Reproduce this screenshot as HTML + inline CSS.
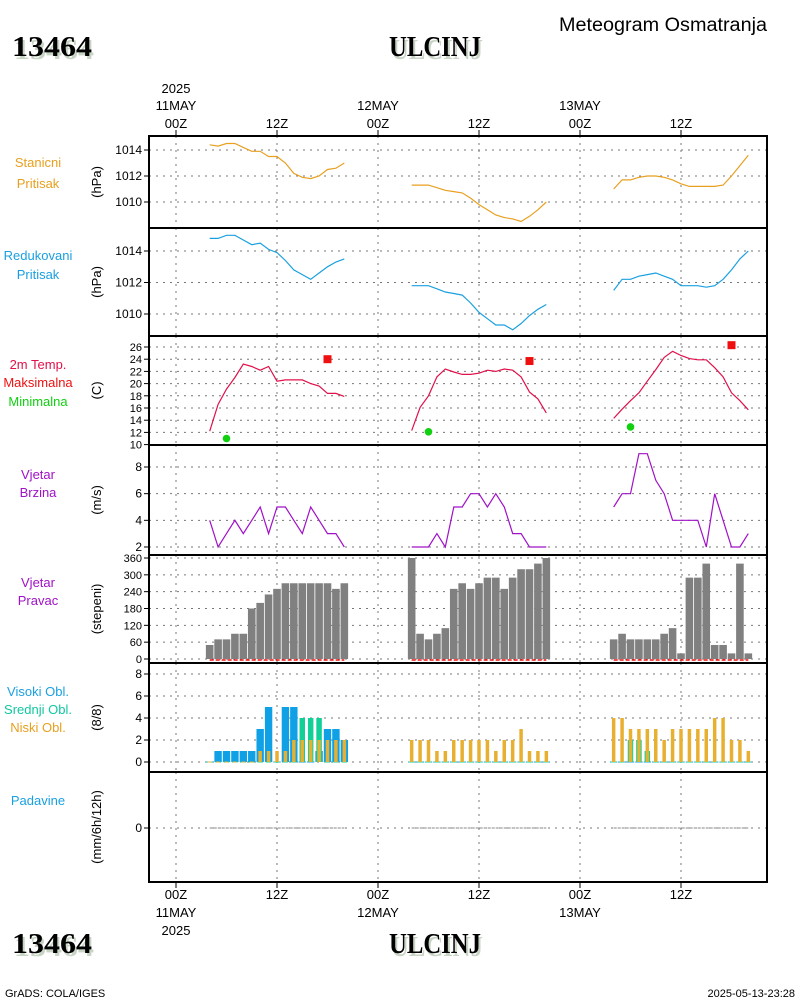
<!DOCTYPE html>
<html><head><meta charset="utf-8"><style>
html,body{margin:0;padding:0;background:#fff;}
svg{display:block;font-family:"Liberation Sans",sans-serif;}
</style></head><body>
<svg id="chart" width="800" height="1000" viewBox="0 0 800 1000" xmlns="http://www.w3.org/2000/svg">
<g>
<text x="559" y="31" font-size="19" fill="#000" textLength="208" lengthAdjust="spacingAndGlyphs">Meteogram Osmatranja</text>
<text x="14" y="59" font-size="29" font-family="Liberation Serif,serif" font-weight="bold" fill="#c8d4c4" textLength="80" lengthAdjust="spacingAndGlyphs">13464</text>
<text x="12" y="56" font-size="29" font-family="Liberation Serif,serif" font-weight="bold" fill="#000" textLength="80" lengthAdjust="spacingAndGlyphs">13464</text>
<text x="391" y="59" font-size="29" font-family="Liberation Serif,serif" font-weight="bold" fill="#c8d4c4" textLength="92" lengthAdjust="spacingAndGlyphs">ULCINJ</text>
<text x="389" y="56" font-size="29" font-family="Liberation Serif,serif" font-weight="bold" fill="#000" textLength="92" lengthAdjust="spacingAndGlyphs">ULCINJ</text>
</g>
<g>
<text x="14" y="956" font-size="29" font-family="Liberation Serif,serif" font-weight="bold" fill="#c8d4c4" textLength="80" lengthAdjust="spacingAndGlyphs">13464</text>
<text x="12" y="953" font-size="29" font-family="Liberation Serif,serif" font-weight="bold" fill="#000" textLength="80" lengthAdjust="spacingAndGlyphs">13464</text>
<text x="391" y="956" font-size="29" font-family="Liberation Serif,serif" font-weight="bold" fill="#c8d4c4" textLength="92" lengthAdjust="spacingAndGlyphs">ULCINJ</text>
<text x="389" y="953" font-size="29" font-family="Liberation Serif,serif" font-weight="bold" fill="#000" textLength="92" lengthAdjust="spacingAndGlyphs">ULCINJ</text>
<text x="5" y="997" font-size="11" fill="#000">GrADS: COLA/IGES</text>
<text x="795" y="997" font-size="11" fill="#000" text-anchor="end">2025-05-13-23:28</text>
</g>
<g id="plots"></g>
</svg>
<script>
// ---- data (hourly, hours 4..20 of each day) ----
const dayStarts = [4, 28, 52];
const stationP = [
 [1014.4,1014.3,1014.5,1014.5,1014.2,1013.9,1013.9,1013.5,1013.5,1013.0,1012.2,1011.9,1011.8,1012.0,1012.5,1012.6,1013.0],
 [1011.3,1011.3,1011.3,1011.1,1010.9,1010.8,1010.7,1010.3,1009.8,1009.4,1009.0,1008.8,1008.7,1008.5,1008.9,1009.4,1010.0],
 [1011.0,1011.7,1011.7,1011.9,1012.0,1012.0,1011.9,1011.7,1011.4,1011.2,1011.2,1011.2,1011.2,1011.3,1012.0,1012.8,1013.6]];
const reducedP = [
 [1014.8,1014.8,1015.0,1015.0,1014.7,1014.4,1014.5,1014.1,1013.9,1013.4,1012.8,1012.5,1012.2,1012.6,1013.0,1013.3,1013.5],
 [1011.8,1011.8,1011.8,1011.6,1011.4,1011.3,1011.2,1010.7,1010.1,1009.7,1009.3,1009.3,1009.0,1009.4,1009.9,1010.3,1010.6],
 [1011.5,1012.2,1012.2,1012.4,1012.5,1012.6,1012.4,1012.2,1011.8,1011.8,1011.8,1011.7,1011.8,1012.2,1012.8,1013.5,1014.0]];
const temp = [
 [12.2,16.6,19.1,21.0,23.2,22.8,22.2,22.8,20.4,20.6,20.6,20.6,20.0,19.6,18.4,18.4,17.9],
 [12.3,16.1,18.0,21.1,22.4,21.9,21.5,21.5,21.7,22.2,22.0,22.4,22.2,21.1,18.6,17.5,15.2],
 [14.3,15.8,17.2,18.5,20.4,22.3,24.3,25.3,24.6,24.1,23.9,23.9,22.6,21.1,18.5,17.2,15.7]];
const tmaxHours = [18, 42, 66];
const tmaxVals = [24.0, 23.7, 26.3];
const tminHours = [6, 30, 54];
const tminVals = [11.0, 12.1, 12.9];
const windSpd = [
 [4,2,3,4,3,4,5,3,5,5,4,3,5,4,3,3,2],
 [2,2,2,3,2,5,5,6,6,5,6,5,3,3,2,2,2],
 [5,6,6,9,9,7,6,4,4,4,4,2,6,4,2,2,3]];
const windDir = [
 [50,70,70,90,90,180,200,230,250,270,270,270,270,270,270,250,270],
 [360,90,70,90,110,250,270,250,270,290,290,250,290,320,320,340,360],
 [70,90,70,70,70,70,90,110,20,290,290,340,50,50,20,340,20]];
const cloudHigh = [
 [0,1,1,1,1,1,3,5,0,5,5,0,0,1,3,3,2],
 [0,0,0,0,0,0,0,0,0,0,0,0,0,0,0,0,0],
 [0,0,0,0,0,0,0,0,0,0,0,0,0,0,0,0,0]];
const cloudMid = [
 [0,0,0,0,0,0,0,0,0,0,0,4,4,4,0,0,0],
 [0,0,0,0,0,0,0,0,0,0,0,0,0,0,0,0,0],
 [0,0,2,2,1,0,0,0,0,0,0,0,0,0,0,0,0]];
const cloudLow = [
 [0,0,0,0,0,0,1,1,1,1,2,2,2,2,2,2,2],
 [2,2,2,1,1,2,2,2,2,2,1,2,2,3,1,1,1],
 [4,4,3,3,3,3,2,3,3,3,3,3,4,4,2,2,1]];
const precip = [
 [0,0,0,0,0,0,0,0,0,0,0,0,0,0,0,0,0],
 [0,0,0,0,0,0,0,0,0,0,0,0,0,0,0,0,0],
 [0,0,0,0,0,0,0,0,0,0,0,0,0,0,0,0,0]];
const xTickHours = [0,12,24,36,48,60];
const xTickLabels = ["00Z","12Z","00Z","12Z","00Z","12Z"];
const dayLabels = ["11MAY","12MAY","13MAY"];

// ---- layout ----
const NS = "http://www.w3.org/2000/svg";
const X0 = 149, X1 = 767;
const xs = h => 176 + h * (505/60);
const root = document.getElementById('plots');
function mk(tag, attrs, parent) {
  const e = document.createElementNS(NS, tag);
  for (const k in attrs) e.setAttribute(k, attrs[k]);
  (parent || root).appendChild(e);
  return e;
}
function txt(s, x, y, size, fill, anchor, parent) {
  const t = mk('text', {x:x, y:y, 'font-size':size, fill:fill, 'text-anchor':anchor||'middle'}, parent);
  t.textContent = s; return t;
}
const panels = [
 {name:'station-pressure', top:136, bot:228, y:v=>150+(1014-v)*13, ticks:[1014,1012,1010], unit:'(hPa)', labels:[['Stanicni','#e8a020',167],['Pritisak','#e8a020',188]]},
 {name:'reduced-pressure', top:228, bot:336, y:v=>251+(1014-v)*15.75, ticks:[1014,1012,1010], unit:'(hPa)', labels:[['Redukovani','#1aa0e0',260],['Pritisak','#1aa0e0',279]]},
 {name:'temperature', top:336, bot:445, y:v=>347+(26-v)*6.1, ticks:[26,24,22,20,18,16,14,12,10], unit:'(C)', labels:[['2m Temp.','#e0104a',369],['Maksimalna','#ee1010',387],['Minimalna','#10d010',406]]},
 {name:'wind-speed', top:445, bot:555, y:v=>467+(8-v)*13.33, ticks:[8,6,4,2], unit:'(m/s)', labels:[['Vjetar','#a010c8',479],['Brzina','#a010c8',497]]},
 {name:'wind-direction', top:555, bot:663, y:v=>659-v*(101/360), ticks:[360,300,240,180,120,60,0], unit:'(stepeni)', labels:[['Vjetar','#a010c8',587],['Pravac','#a010c8',605]]},
 {name:'cloud-cover', top:663, bot:772, y:v=>762-v*11, ticks:[8,6,4,2,0], unit:'(8/8)', labels:[['Visoki Obl.','#1aa0e0',696],['Srednji Obl.','#10c8a0',714],['Niski Obl.','#e8a020',732]]},
 {name:'precipitation', top:772, bot:882, y:v=>828-v*20, ticks:[0], unit:'(mm/6h/12h)', labels:[['Padavine','#1aa0e0',805]]}
];
panels.forEach(p => {
  const g = mk('g', {});
  
  
  p.g = g;
  xTickHours.forEach(h => { const l = mk('line', {x1:xs(h), x2:xs(h), y1:p.top, y2:p.bot, stroke:'#777', 'stroke-dasharray':'2,5', 'stroke-width':1}, g);
      });
  p.ticks.forEach(v => {
    const y = p.y(v);
    const l = mk('line', {x1:X0, x2:X1, y1:y, y2:y, stroke:'#777', 'stroke-dasharray':'2,5', 'stroke-width':1}, g);
     
    mk('line', {x1:X0-5, x2:X0, y1:y, y2:y, stroke:'#000', 'stroke-width':1}, g);
    const t = txt(String(v), X0-7, y+4, p.ticks.length>6?11:12, '#000', 'end', g);
     
  });
  const cy = (p.top+p.bot)/2;
  const u = txt(p.unit, 0, 0, 13, '#000', 'middle', g);
  u.setAttribute('transform', `translate(101,${cy}) rotate(-90)`);
   
  p.labels.forEach(L => { const t = txt(L[0], 38, L[2], 13, L[1], 'middle', g);
      });
});
function line(p, arr, color, nm) {
  arr.forEach((d, i) => {
    const pts = d.map((v, j) => xs(dayStarts[i]+j).toFixed(1)+','+p.y(v).toFixed(1)).join(' ');
    const pl = mk('polyline', {points:pts, fill:'none', stroke:color, 'stroke-width':1.2}, p.g);
     
  });
}
line(panels[0], stationP, '#e8a020', 'station-pressure-line');
line(panels[1], reducedP, '#1aa0e0', 'reduced-pressure-line');
line(panels[2], temp, '#e0104a', 'temperature-line');
line(panels[3], windSpd, '#a010c8', 'wind-speed-line');
tmaxHours.forEach((h,i) => { const r = mk('rect', {x:xs(h)-4, y:panels[2].y(tmaxVals[i])-4, width:8, height:8, fill:'#ee1010'}, panels[2].g);
    });
tminHours.forEach((h,i) => { const c = mk('circle', {cx:xs(h), cy:panels[2].y(tminVals[i]), r:3.8, fill:'#10d010'}, panels[2].g);
    });
function bars(p, arr, color, w, nm) {
  arr.forEach((d, i) => d.forEach((v, j) => {
    const x = xs(dayStarts[i]+j), y0 = p.y(0), y = p.y(v);
    if (v <= 0) { mk('line', {x1:x-w/2, x2:x+w/2, y1:y0, y2:y0, stroke:color, 'stroke-width':1}, p.g); return; }
    const r = mk('rect', {x:x-w/2, y:y, width:w, height:y0-y, fill:color}, p.g);
     
  }));
}
bars(panels[4], windDir, '#808080', 7.6, 'wind-direction-bar');
dayStarts.forEach(s => { const l = mk('line', {x1:xs(s), x2:xs(s+16), y1:panels[4].y(0)+1, y2:panels[4].y(0)+1, stroke:'#ee1010', 'stroke-width':1.5, 'stroke-dasharray':'4,2'}, panels[4].g);
    });
bars(panels[5], cloudHigh, '#10a0e6', 7.4, 'cloud-high-bar');
bars(panels[5], cloudMid, '#10d098', 5.5, 'cloud-mid-bar');
bars(panels[5], cloudLow, '#e8b030', 3.5, 'cloud-low-bar');
precip.forEach((d, i) => { const pts = d.map((v,j)=>xs(dayStarts[i]+j).toFixed(1)+','+panels[6].y(v).toFixed(1)).join(' ');
  const l = mk('polyline', {points:pts, fill:'none', stroke:'#888', 'stroke-width':1, 'stroke-dasharray':'3,1'}, panels[6].g);
    });
panels.forEach(p => { const r = mk('rect', {x:X0, y:p.top, width:X1-X0, height:p.bot-p.top, fill:'none', stroke:'#000', 'stroke-width':2}, p.g);
    });
const ax = mk('g', {});
 
xTickHours.forEach((h,i) => {
  mk('line', {x1:xs(h), x2:xs(h), y1:130, y2:136, stroke:'#000'}, ax);
  mk('line', {x1:xs(h), x2:xs(h), y1:882, y2:888, stroke:'#000'}, ax);
  const t1 = txt(xTickLabels[i], xs(h), 128, 13, '#000', 'middle', ax);
   
  const t2 = txt(xTickLabels[i], xs(h), 899, 13, '#000', 'middle', ax);
   
});
dayLabels.forEach((d,i) => {
  const t1 = txt(d, xs(i*24), 110, 13, '#000', 'middle', ax);
   
  const t2 = txt(d, xs(i*24), 917, 13, '#000', 'middle', ax);
   
});
const y1 = txt('2025', xs(0), 93, 13, '#000', 'middle', ax);
 
const y2 = txt('2025', xs(0), 935, 13, '#000', 'middle', ax);
 
</script>
</body></html>
